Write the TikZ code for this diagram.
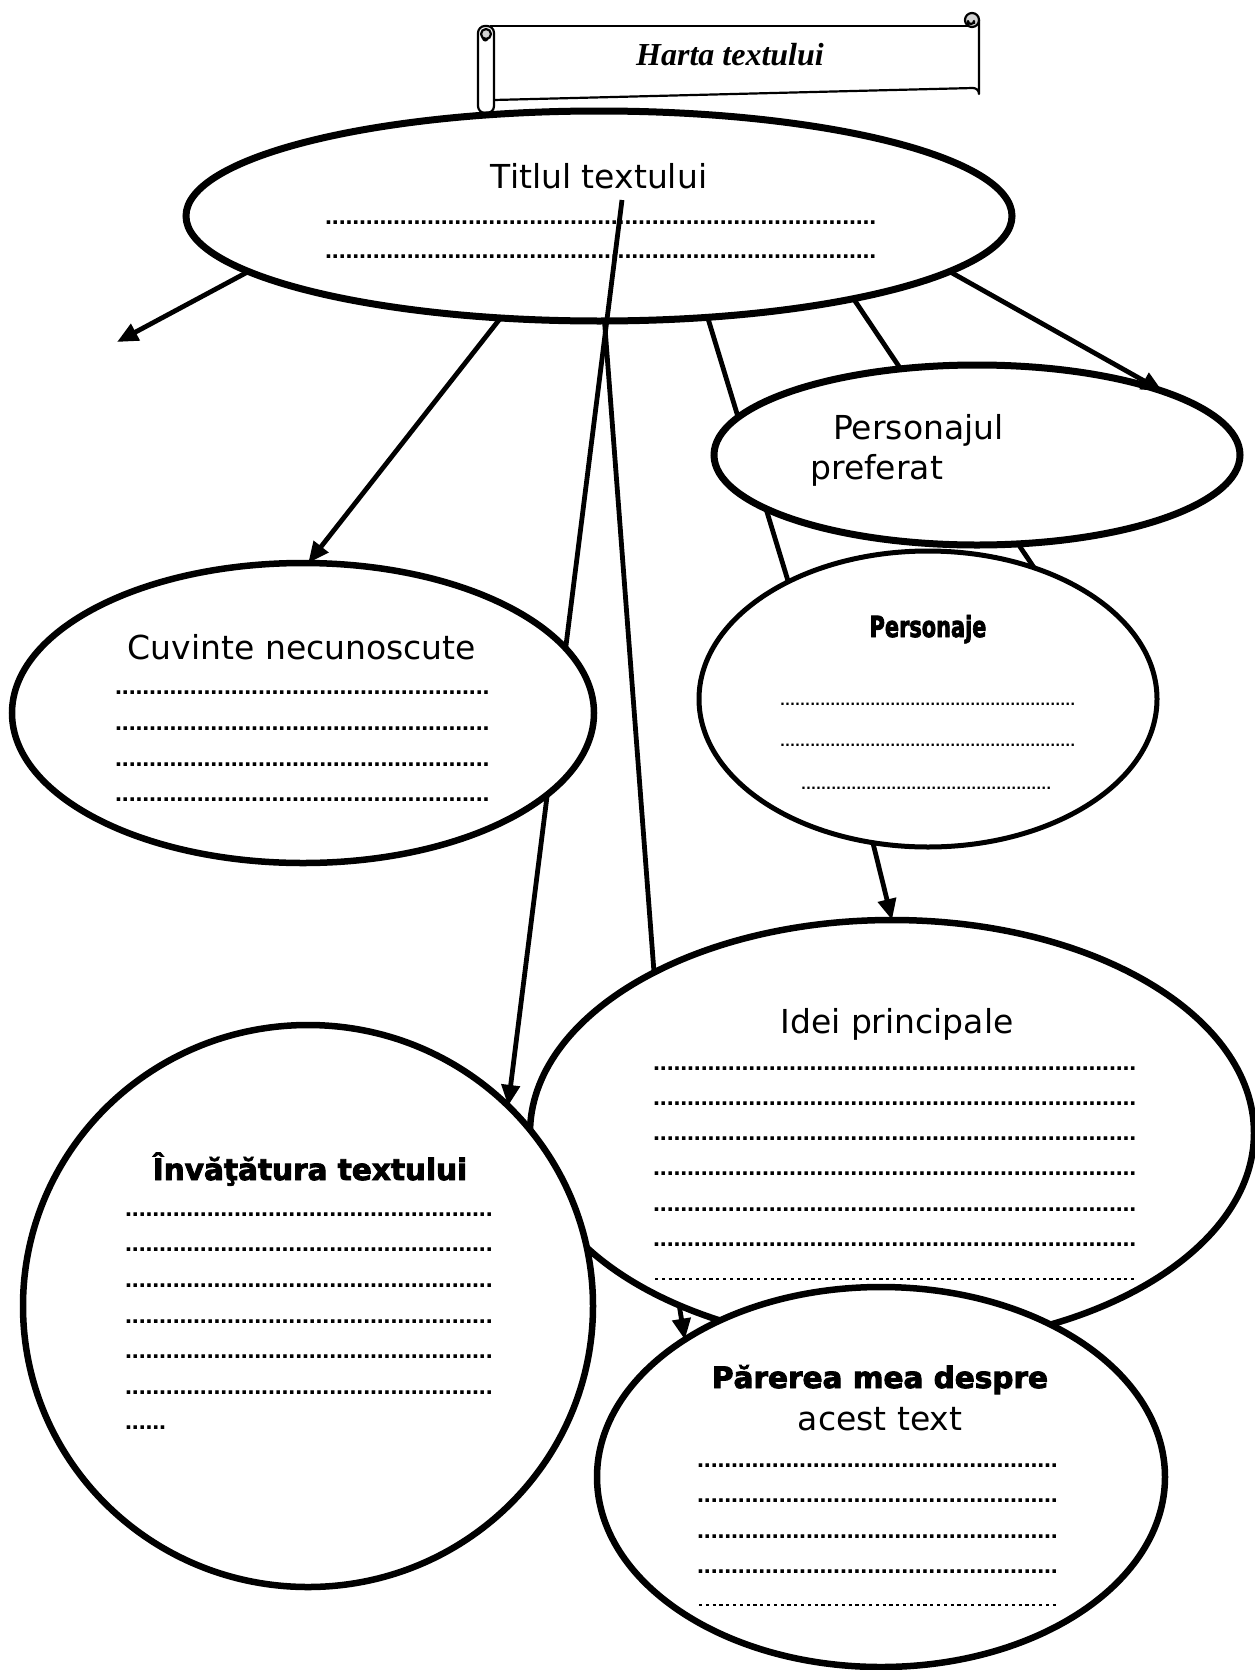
\documentclass[tikz,border=0pt]{standalone}
\usepackage{fontspec}
\usepackage{graphicx}
\setmainfont{DejaVu Sans}
\newfontfamily\hartafont{Liberation Serif}
\newfontfamily\dotfam{Liberation Sans}
\newfontfamily\heavyfont{DejaVu Sans}[BoldFeatures={FakeBold=3}]
\usetikzlibrary{shapes.geometric,arrows.meta}

\newcommand\regtxt{\fontsize{33}{40}\selectfont}
\newcommand\bldtxt{\heavyfont\fontsize{29.5}{36}\selectfont\bfseries}
\newcommand\dotrow[1]{{\dotfam\bfseries\fontsize{25}{25}\selectfont\hbox to #1{\leaders\hbox to 6.8pt{\hss.\hss}\hfill}}}
\newcommand\smalldotrow[1]{{\dotfam\bfseries\fontsize{16}{16}\selectfont\hbox to #1{\leaders\hbox to 5pt{\hss.\hss}\hfill}}}
\newcommand\dashrow[1]{\hbox to #1{\leaders\hbox to 6.8pt{\hss\vrule width 3.2pt height 3pt depth -1.2pt\hss}\hfill}}

\tikzset{
  ell/.style={ellipse, draw=black, fill=white, line width=6.5pt, inner sep=0pt, outer sep=0pt},
  conn/.style={line width=4.8pt, draw=black},
  arr/.style={-{Triangle[length=21pt,width=18pt]}},
  txt/.style={anchor=base, inner sep=0pt},
  row/.style={anchor=base west, inner sep=0pt},
  banner/.style={line width=2.2pt, draw=black, line join=round}
}

\begin{document}
\begin{tikzpicture}[x=1pt,y=-1pt]
\useasboundingbox (0,0) rectangle (1255,1670);
\fill[white] (0,0) rectangle (1255,1670);

% ---------- banner (scroll) ----------
\draw[banner] (490,26) -- (968,26);
\draw[banner] (979,20) -- (979,94) arc[start angle=0,end angle=-90,radius=6] -- (494,100);
\draw[banner, fill=gray!35] (972,20) circle[radius=7];
\draw[banner] (968,26) -- (968,21) arc[start angle=180,end angle=0,radius=3] -- (974,24);
\draw[banner, rounded corners=7pt, fill=white] (478,26) rectangle (494,113);
\draw[banner, fill=gray!35] (486,34) circle[radius=5];
\draw[banner] (483,38) arc[start angle=180,end angle=20,radius=2.5];
\node[txt] (harta) at (730,66) {\hartafont\fontsize{32}{38}\selectfont\bfseries\itshape Harta textului};

% ---------- title ellipse ----------
\node[ell, line width=7pt, minimum width=826pt, minimum height=210pt] (title) at (599,216) {};
\node[txt] (ttitle) at (599,188) {\regtxt Titlul textului};
\node[row] (tr1) at (325,224) {\dotrow{555pt}};
\node[row] (tr2) at (325,258) {\dotrow{555pt}};

% ---------- placeholders for later ellipses (anchors only) ----------
\path (303,713) node[ellipse, inner sep=0pt, outer sep=0pt, minimum width=582pt, minimum height=300pt] (cuvp) {};
\path (977,455) node[ellipse, inner sep=0pt, outer sep=0pt, minimum width=526pt, minimum height=180pt] (prefp) {};
\path (928,699) node[ellipse, inner sep=0pt, outer sep=0pt, minimum width=458pt, minimum height=296pt] (persp) {};
\path (892,1133) node[ellipse, inner sep=0pt, outer sep=0pt, minimum width=724pt, minimum height=426pt] (ideip) {};
\path (308,1306) node[ellipse, inner sep=0pt, outer sep=0pt, minimum width=570pt, minimum height=562pt] (invp) {};

% ---------- connectors from the title ----------
\coordinate (a1end) at (117,342);
\coordinate (a3start) at (622,200);
\draw[conn,arr] (title.189) -- (a1end);
\draw[conn,arr] (title.226) -- (cuvp.88);
\draw[conn,arr] (a3start) -- (invp.45);
\draw[conn] (title.273) -- (ideip.146);
\draw[conn] (title.317) -- (persp.140);
\draw[conn] (title.342) -- (persp.51);

% ---------- Cuvinte necunoscute ----------
\node[ell, minimum width=582pt, minimum height=300pt] (cuv) at (303,713) {};
\node[txt] (tcuv) at (302,659) {\regtxt Cuvinte necunoscute};
\node[row] (cr1) at (115,694.5) {\dotrow{377pt}};
\node[row] (cr2) at (115,730) {\dotrow{377pt}};
\node[row] (cr3) at (115,766) {\dotrow{377pt}};
\node[row] (cr4) at (115,801) {\dotrow{377pt}};

% ---------- Personajul preferat ----------
\node[ell, line width=7pt, minimum width=526pt, minimum height=180pt] (pref) at (977,455) {};
\node[row] (tpref1) at (833,439) {\regtxt Personajul};
\node[row] (tpref2) at (810,479) {\regtxt preferat};
\draw[conn,arr] (title.351) -- (pref.19);

% ---------- Personaje ----------
\node[ell, line width=5pt, minimum width=458pt, minimum height=296pt] (pers) at (928,699) {};
\node[txt] (tpers) at (928,637) {\scalebox{0.72}[1]{\heavyfont\fontsize{29}{34}\selectfont\bfseries Personaje}};
\node[row] (pr1) at (780,705.5) {\smalldotrow{298pt}};
\node[row] (pr2) at (780,746.5) {\smalldotrow{298pt}};
\node[row] (pr3) at (801,789.5) {\smalldotrow{252pt}};

% ---------- Idei principale ----------
\node[ell, minimum width=724pt, minimum height=426pt] (idei) at (892,1133) {};
\draw[conn,arr] (pers.249) -- (idei.90);
\node[txt] (tidei) at (897,1033) {\regtxt Idei principale};
\node[row] (ir1) at (653,1070) {\dotrow{489pt}};
\node[row] (ir2) at (653,1105) {\dotrow{489pt}};
\node[row] (ir3) at (653,1140.5) {\dotrow{489pt}};
\node[row] (ir4) at (653,1175.5) {\dotrow{489pt}};
\node[row] (ir5) at (653,1211) {\dotrow{489pt}};
\node[row] (ir6) at (653,1246) {\dotrow{489pt}};
\node[row] (ir7) at (653,1281) {\dashrow{489pt}};

% ---------- Invatatura textului ----------
\node[ell, minimum width=570pt, minimum height=562pt] (inv) at (308,1306) {};
\node[txt] (tinv) at (310,1180) {\bldtxt Învăţătura textului};
\node[row] (vr1) at (125,1216) {\dotrow{371pt}};
\node[row] (vr2) at (125,1251.5) {\dotrow{371pt}};
\node[row] (vr3) at (125,1287.5) {\dotrow{371pt}};
\node[row] (vr4) at (125,1323.5) {\dotrow{371pt}};
\node[row] (vr5) at (125,1358) {\dotrow{371pt}};
\node[row] (vr6) at (125,1394.5) {\dotrow{371pt}};
\node[row] (vr7) at (125,1429.5) {\dotrow{41pt}};

% ---------- Parerea mea despre acest text ----------
\node[ell, minimum width=568pt, minimum height=380pt] (par) at (881,1477) {};
\draw[conn,arr] (idei.219) -- (par.145);
\node[txt] (tpar1) at (880,1388) {\bldtxt Părerea mea despre};
\node[txt] (tpar2) at (880,1430) {\regtxt acest text};
\node[row] (pa1) at (697,1467.5) {\dotrow{365pt}};
\node[row] (pa2) at (697,1502.5) {\dotrow{365pt}};
\node[row] (pa3) at (697,1538.5) {\dotrow{365pt}};
\node[row] (pa4) at (697,1573.5) {\dotrow{365pt}};
\node[row] (pa5) at (697,1607) {\dashrow{365pt}};
\end{tikzpicture}
\end{document}
